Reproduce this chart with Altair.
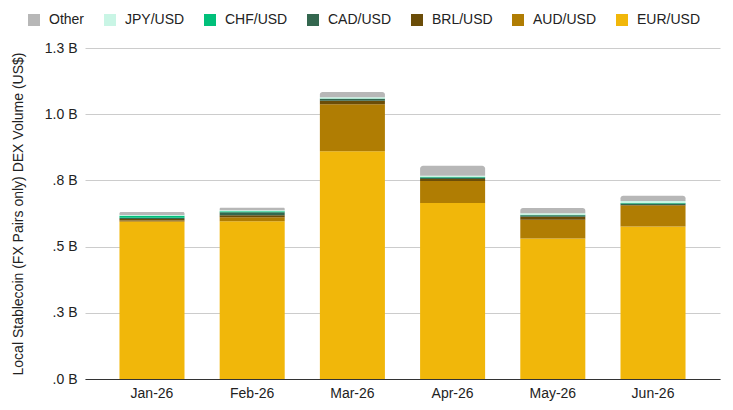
import altair as alt
import pandas as pd

months = ["Jan-26", "Feb-26", "Mar-26", "Apr-26", "May-26", "Jun-26"]
series = ["EUR/USD", "AUD/USD", "BRL/USD", "CAD/USD", "CHF/USD", "JPY/USD", "Other"]
# values in billions US$
eur = [0.594, 0.596, 0.860, 0.665, 0.531, 0.576]
aud = [0.005, 0.015, 0.1775, 0.083, 0.0705, 0.079]
brl = [0.005, 0.0075, 0.013, 0.0075, 0.011, 0.002]
cad = [0.005, 0.011, 0.0075, 0.005, 0.006, 0.006]
chf = [0.0075, 0.004, 0.001, 0.002, 0.002, 0.002]
jpy = [0.003, 0.004, 0.005, 0.005, 0.005, 0.0075]
other = [0.011, 0.009, 0.020, 0.038, 0.020, 0.020]

legend_order = ["Other", "JPY/USD", "CHF/USD", "CAD/USD", "BRL/USD", "AUD/USD", "EUR/USD"]
colors = ["#B7B7B7", "#C9F5E5", "#00C07A", "#34674F", "#6B4D08", "#B07D03", "#F1B70A"]
y_ticks = [0, 0.25, 0.5, 0.75, 1.0, 1.25]

cols = [eur, aud, brl, cad, chf, jpy, other]
rows = []
for si, (name, vals) in enumerate(zip(series, cols)):
    for m, v in zip(months, vals):
        rows.append({"month": m, "series": name, "value": v, "idx": si})
df = pd.DataFrame(rows)

FONT = "Liberation Sans"

base = alt.Chart(df).transform_stack(
    stack="value", as_=["y0", "y1"], groupby=["month"], sort=[alt.SortField("idx", order="ascending")]
)

x_enc = alt.X(
    "month:N", sort=months, title=None,
    scale=alt.Scale(paddingInner=0.351, paddingOuter=0.344),
    axis=alt.Axis(labelAngle=0, labelFontSize=14, labelColor="#222222", labelFont=FONT,
                  domainColor="#333333", ticks=False, labelPadding=7, grid=False),
)
y_enc = alt.Y(
    "y0:Q",
    scale=alt.Scale(domain=[0, 1.25], nice=False),
    axis=alt.Axis(
        values=y_ticks,
        labelExpr="(datum.value < 1 ? substring(format(datum.value, '.1f'), 1) : format(datum.value, '.1f')) + ' B'",
        title="Local Stablecoin (FX Pairs only) DEX Volume (US$)",
        titleFontSize=14, titleFontWeight="normal", titleColor="#222222", titleFont=FONT,
        labelFontSize=14, labelColor="#222222", labelFont=FONT, labelPadding=8,
        domain=False, ticks=False, gridColor="#CCCCCC", titlePadding=19,
    ),
)
color_enc = alt.Color(
    "series:N",
    scale=alt.Scale(domain=legend_order, range=colors),
    legend=alt.Legend(
        title=None, orient="none", direction="horizontal", legendX=-58, legendY=-35,
        symbolType="square", symbolSize=144, symbolStrokeWidth=0, symbolOpacity=1,
        labelFontSize=14, labelColor="#222222", labelFont=FONT, labelOffset=8,
        columnPadding=18, columns=7, padding=0,
    ),
)

bars = base.transform_filter("datum.series != 'Other'").mark_bar(opacity=1).encode(
    x=x_enc, y=y_enc, y2="y1:Q", color=color_enc
)
top = base.transform_filter("datum.series == 'Other'").mark_bar(
    opacity=1, cornerRadiusTopLeft=3, cornerRadiusTopRight=3
).encode(x=x_enc, y=y_enc, y2="y1:Q", color=color_enc)

chart = alt.layer(bars, top).properties(
    width=635, height=331,
    autosize=alt.AutoSizeParams(type="none"),
    padding={"left": 77, "top": 40, "right": 5, "bottom": 23},
).configure(font=FONT, view=alt.ViewConfig(stroke=None))

chart.save("out.html", embed_options={"renderer": "svg", "actions": False})
